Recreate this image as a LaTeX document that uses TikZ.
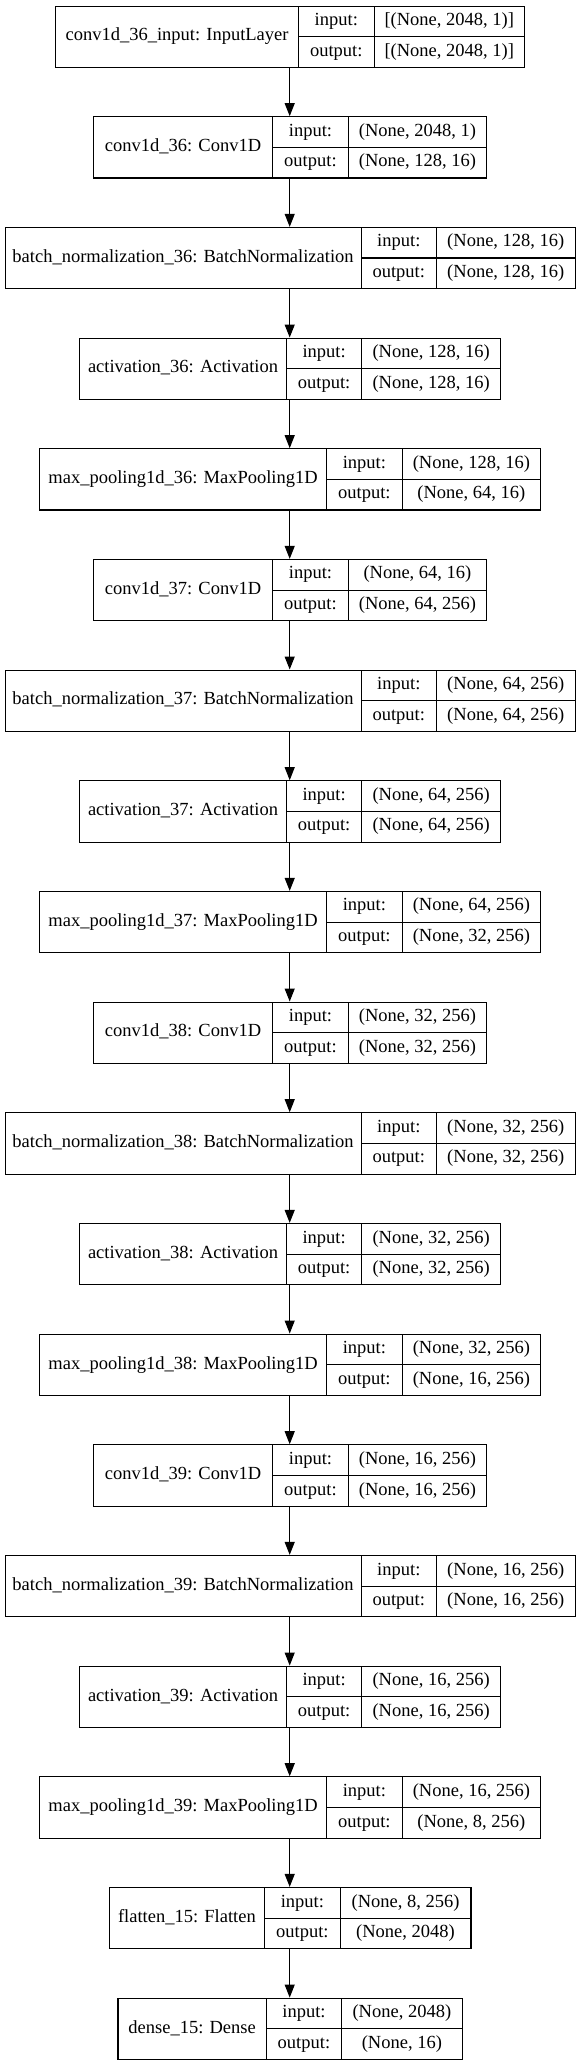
\documentclass[tikz,border=0pt]{standalone}
\usepackage{fontspec}
\setmainfont{Liberation Serif}
\usetikzlibrary{arrows.meta}
\tikzset{
  cell/.style={draw, line width=1.1pt, inner sep=0pt, anchor=north west,
    text height=12.5pt, text depth=4pt, font=\fontsize{18.5}{20}\selectfont},
  whole/.style={inner sep=0pt, anchor=north west},
  arr/.style={-{Triangle[length=13pt,width=10pt]}, line width=1.1pt},
}
\newcommand\mylayer[7]{%
  \pgfmathsetmacro\Ltop{5.5+#2*110.67}%
  \pgfmathsetmacro\Lw{#3+75.5+#4}%
  \pgfmathsetmacro\Lleft{289.5-\Lw/2}%
  \pgfmathsetmacro\Ldone{\Lleft+#3}%
  \pgfmathsetmacro\Ldtwo{\Ldone+75.5}%
  \pgfmathsetmacro\Lmid{\Ltop+30.65}%
  \node[whole, minimum width=\Lw pt, minimum height=61.3pt] (#1) at (\Lleft,\Ltop) {};
  \node[cell, minimum width=#3pt, minimum height=61.3pt] (#1name) at (\Lleft,\Ltop) {#5};
  \node[cell, minimum width=75.5pt, minimum height=30.65pt] (#1inl) at (\Ldone,\Ltop) {input:};
  \node[cell, minimum width=75.5pt, minimum height=30.65pt] (#1outl) at (\Ldone,\Lmid) {output:};
  \node[cell, minimum width=#4pt, minimum height=30.65pt] (#1inv) at (\Ldtwo,\Ltop) {#6};
  \node[cell, minimum width=#4pt, minimum height=30.65pt] (#1outv) at (\Ldtwo,\Lmid) {#7};
}
\begin{document}
\begin{tikzpicture}[x=1pt,y=-1pt]
\useasboundingbox (0,0) rectangle (579,2065);
\mylayer{La}{0}{243}{150.5}{conv1d\_36\_input: InputLayer}{[(None, 2048, 1)]}{[(None, 2048, 1)]}
\mylayer{Lb}{1}{179.3}{138.5}{conv1d\_36: Conv1D}{(None, 2048, 1)}{(None, 128, 16)}
\mylayer{Lc}{2}{356}{138.5}{batch\_normalization\_36: BatchNormalization}{(None, 128, 16)}{(None, 128, 16)}
\mylayer{Ld}{3}{206.7}{138.5}{activation\_36: Activation}{(None, 128, 16)}{(None, 128, 16)}
\mylayer{Le}{4}{287.1}{138.5}{max\_pooling1d\_36: MaxPooling1D}{(None, 128, 16)}{(None, 64, 16)}
\mylayer{Lf}{5}{179.3}{138.5}{conv1d\_37: Conv1D}{(None, 64, 16)}{(None, 64, 256)}
\mylayer{Lg}{6}{356}{138.5}{batch\_normalization\_37: BatchNormalization}{(None, 64, 256)}{(None, 64, 256)}
\mylayer{Lh}{7}{206.7}{138.5}{activation\_37: Activation}{(None, 64, 256)}{(None, 64, 256)}
\mylayer{Li}{8}{287.1}{138.5}{max\_pooling1d\_37: MaxPooling1D}{(None, 64, 256)}{(None, 32, 256)}
\mylayer{Lj}{9}{179.3}{138.5}{conv1d\_38: Conv1D}{(None, 32, 256)}{(None, 32, 256)}
\mylayer{Lk}{10}{356}{138.5}{batch\_normalization\_38: BatchNormalization}{(None, 32, 256)}{(None, 32, 256)}
\mylayer{Ll}{11}{206.7}{138.5}{activation\_38: Activation}{(None, 32, 256)}{(None, 32, 256)}
\mylayer{Lm}{12}{287.1}{138.5}{max\_pooling1d\_38: MaxPooling1D}{(None, 32, 256)}{(None, 16, 256)}
\mylayer{Ln}{13}{179.3}{138.5}{conv1d\_39: Conv1D}{(None, 16, 256)}{(None, 16, 256)}
\mylayer{Lo}{14}{356}{138.5}{batch\_normalization\_39: BatchNormalization}{(None, 16, 256)}{(None, 16, 256)}
\mylayer{Lp}{15}{206.7}{138.5}{activation\_39: Activation}{(None, 16, 256)}{(None, 16, 256)}
\mylayer{Lq}{16}{287.1}{138.5}{max\_pooling1d\_39: MaxPooling1D}{(None, 16, 256)}{(None, 8, 256)}
\mylayer{Lr}{17}{155.5}{130.8}{flatten\_15: Flatten}{(None, 8, 256)}{(None, 2048)}
\mylayer{Ls}{18}{148.2}{120.4}{dense\_15: Dense}{(None, 2048)}{(None, 16)}
\foreach \a/\b in {La/Lb,Lb/Lc,Lc/Ld,Ld/Le,Le/Lf,Lf/Lg,Lg/Lh,Lh/Li,Li/Lj,Lj/Lk,Lk/Ll,Ll/Lm,Lm/Ln,Ln/Lo,Lo/Lp,Lp/Lq,Lq/Lr,Lr/Ls}
  \draw[arr] (\a.south) -- (\b.north);
\end{tikzpicture}
\end{document}
